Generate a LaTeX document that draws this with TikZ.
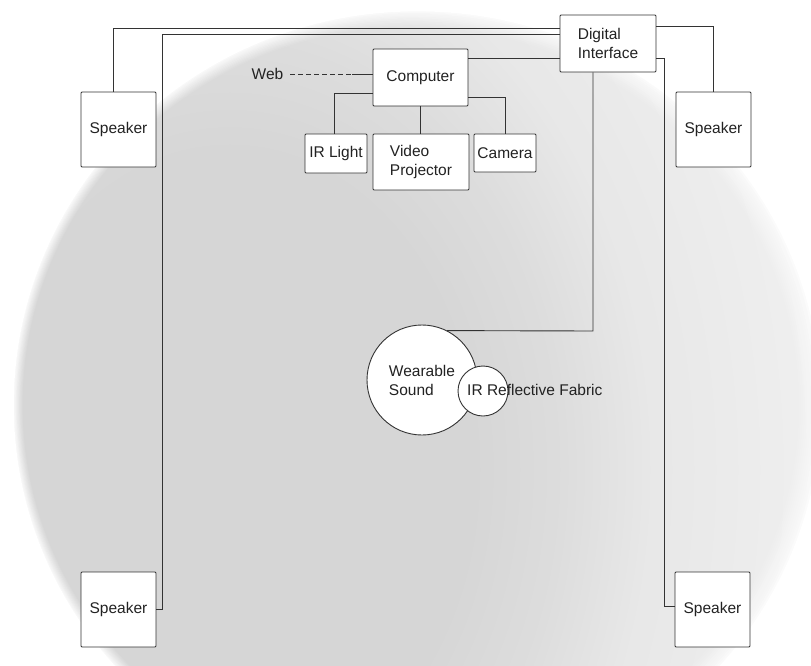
\documentclass[tikz,border=0pt]{standalone}
\usepackage{fontspec}
\setmainfont{Liberation Sans}
\definecolor{ink}{HTML}{222222}
\definecolor{edge}{HTML}{333333}
\begin{document}
\begin{tikzpicture}[x=1pt,y=-1pt,
  box/.style={draw=edge, line width=0.9pt, fill=white, rounded corners=1pt, inner sep=0pt,
    font=\fontsize{15.5}{19}\selectfont, text=ink, align=left},
  disc/.style={circle, draw=edge, line width=0.9pt, fill=white, inner sep=0pt,
    font=\fontsize{15.5}{19}\selectfont, text=ink, align=left},
  wire/.style={draw=edge, line width=0.9pt},
  lbl/.style={font=\fontsize{15.5}{19}\selectfont, text=ink, inner sep=2pt}]
\useasboundingbox (0,0) rectangle (811,666);
% background disc: interior gradient, then soft white edge
\begin{scope}
  \clip (0,0) rectangle (811,666);
  \begin{scope}
    \clip (418,405) ellipse [x radius=405, y radius=395];
    \fill[fill={rgb,255:red,240;green,240;blue,240}] (0,0) rectangle (811,666);
    \foreach \g in {239,238,...,214}{
      \pgfmathsetmacro\r{\g>=236 ? 600-(239-\g)/3*70 : (\g>=231 ? 530-(236-\g)/5*110 : (\g>=220 ? 420-(231-\g)/11*90 : 330-(220-\g)/6*80))}
      \fill[fill={rgb,255:red,\g;green,\g;blue,\g}] (230,470) ellipse [x radius=\r, y radius={1.3*\r}];
    }
  \end{scope}
  \foreach \k in {1,...,12}{
    \pgfmathsetmacro\op{1/\k}
    \fill[white, fill opacity=\op, even odd rule] (-10,-10) rectangle (821,676)
      ({418-0.6*\k},405) ellipse [x radius={405-1.4*\k}, y radius={395-1.4*\k}];
  }
\end{scope}

% nodes
\node[box, minimum width=75, minimum height=75] (spTL) at (118.5,129.5) {Speaker};
\node[box, minimum width=75, minimum height=75] (spTR) at (713.5,129.5) {Speaker};
\node[box, minimum width=75, minimum height=75] (spBL) at (118.5,609.5) {Speaker};
\node[box, minimum width=75, minimum height=75] (spBR) at (712.5,609.5) {Speaker};
\node[box, minimum width=96, minimum height=57] (DI) at (608,43.5) {Digital\\Interface};
\node[box, minimum width=95, minimum height=57] (comp) at (420.5,77.5) {Computer};
\node[box, minimum width=62, minimum height=39] (irl) at (336,153.5) {IR Light};
\node[box, minimum width=96, minimum height=56] (vp) at (421,162) {Video\\Projector};
\node[box, minimum width=62, minimum height=38] (cam) at (505,153) {Camera};
\node[disc, minimum size=110] (wear) at (422,380) {Wearable\\Sound};
\node[disc, minimum size=50] (irf) at (483,391) {};
\node[lbl, anchor=west] (irftxt) at (465,390) {IR Reflective Fabric};
\node[lbl] (web) at (267.5,74) {Web};

% bend points
\coordinate (w1) at (113,28);
\coordinate (w2) at (162,34);
\coordinate (w3) at (0,58);
\coordinate (w4) at (712,26);
\coordinate (w5) at (664,58);
\coordinate (w5b) at (664,606);
\coordinate (w6) at (593,331);
\coordinate (w7) at (334,93);
\coordinate (w9) at (506,97);
\coordinate (wd) at (352,74);

% connectors
\draw[wire] (spTL.north -| w1) -- (w1) -- (DI.west |- w1);
\draw[wire] (spBL.east) -| (w2) -- (DI.west |- w2);
\draw[wire] (comp.east |- w3) -- (DI.west |- w3);
\draw[wire] (DI.east |- w4) -| (spTR.north);
\draw[wire] (DI.east |- w5) -- (w5) -- (w5b) -- (spBR.west |- w5b);
\draw[wire] (DI.south -| w6) -- (w6) -- (wear.63);
\draw[wire] (comp.west |- w7) -- (w7) -- (irl.north -| w7);
\draw[wire] (comp.south) -- (vp.north -| comp.south);
\draw[wire] (comp.east |- w9) -| (cam.north);
\draw[wire, line width=0.7pt, dash pattern=on 5pt off 3pt, shorten <=5pt] (web.east) -- (wd);
\draw[wire] (wd) -- (comp.west |- wd);
\end{tikzpicture}
\end{document}
